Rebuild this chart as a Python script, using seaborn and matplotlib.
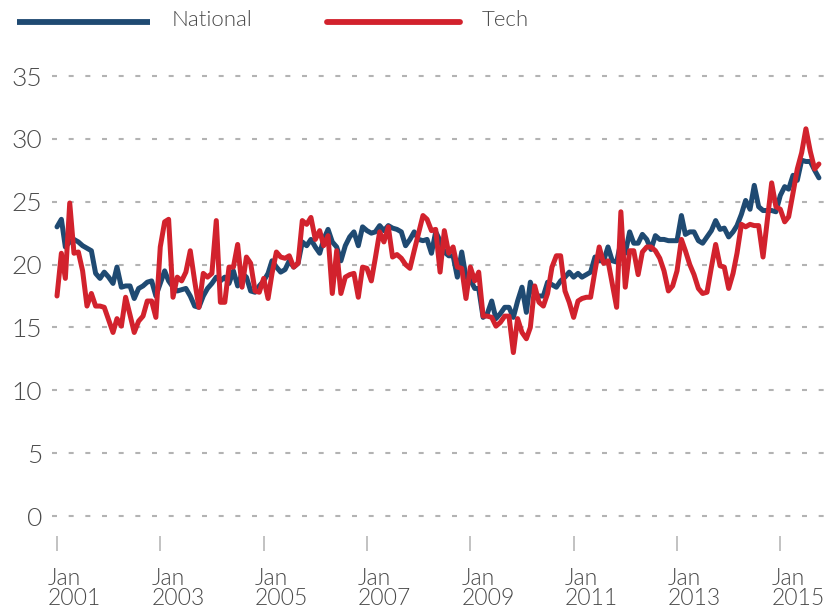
import matplotlib
matplotlib.use("Agg")
import matplotlib.pyplot as plt
import matplotlib.dates as mdates
from matplotlib.lines import Line2D
from matplotlib.transforms import ScaledTranslation
import pandas as pd
import seaborn as sns

# monthly values, Jan 2001 .. Oct 2015
national = [
    23.0, 23.6, 21.4, 21.8, 22.0, 21.8, 21.5, 21.3, 21.1, 19.3, 18.9, 19.4,  # 2001
    19.0, 18.5, 19.8, 18.2, 18.3, 18.3, 17.3, 18.1, 18.3, 18.6, 18.7, 17.5,  # 2002
    18.5, 19.5, 18.7, 18.2, 17.9, 18.0, 18.1, 17.5, 16.7, 16.6, 17.5, 18.1,  # 2003
    18.5, 19.0, 18.7, 19.0, 18.5, 19.5, 18.3, 19.3, 19.0, 17.9, 17.8, 18.3,  # 2004
    18.7, 19.3, 20.3, 19.8, 19.4, 19.6, 20.3, 19.8, 20.1, 21.8, 21.5, 22.0,  # 2005
    21.4, 20.9, 22.0, 22.8, 21.8, 21.4, 20.3, 21.5, 22.2, 22.6, 21.5, 23.0,  # 2006
    22.7, 22.5, 22.6, 23.1, 22.7, 23.1, 22.9, 22.8, 22.6, 21.5, 22.0, 22.6,  # 2007
    22.0, 21.9, 22.0, 20.9, 22.6, 21.9, 21.0, 20.7, 20.7, 19.0, 21.0, 19.0,  # 2008
    18.8, 18.1, 18.1, 15.8, 16.1, 17.1, 15.7, 16.1, 16.6, 16.6, 15.8, 17.1,  # 2009
    18.2, 16.2, 18.6, 17.5, 17.5, 17.5, 18.6, 18.4, 18.2, 18.7, 19.0, 19.4,  # 2010
    19.0, 19.3, 19.0, 19.2, 19.4, 20.6, 20.3, 20.3, 21.4, 20.3, 20.2, 21.8,  # 2011
    20.9, 22.6, 21.7, 21.7, 22.4, 22.0, 21.2, 22.3, 22.0, 22.0, 21.9, 21.9,  # 2012
    21.9, 23.9, 22.4, 22.6, 22.6, 21.9, 21.7, 22.2, 22.7, 23.5, 22.8, 22.9,  # 2013
    22.2, 22.6, 23.1, 24.0, 25.1, 24.4, 26.3, 24.6, 24.3, 24.3, 24.3, 24.2,  # 2014
    25.5, 26.2, 26.0, 27.1, 26.7, 28.3, 28.2, 28.2, 27.5, 26.9,              # 2015
]
tech = [
    17.5, 20.9, 18.9, 24.9, 20.9, 21.0, 19.5, 16.7, 17.7, 16.7, 16.7, 16.6,  # 2001
    15.6, 14.6, 15.7, 15.1, 17.4, 16.0, 14.6, 15.5, 15.9, 17.1, 17.1, 15.8,  # 2002
    21.4, 23.4, 23.6, 17.4, 19.0, 18.7, 19.4, 21.1, 18.7, 16.6, 19.3, 19.0,  # 2003
    19.3, 23.5, 17.0, 17.0, 19.8, 19.8, 21.6, 18.2, 20.6, 20.1, 17.9, 17.8,  # 2004
    18.9, 17.3, 19.3, 21.0, 20.6, 20.5, 20.7, 19.8, 20.1, 23.5, 23.2, 23.75, # 2005
    22.0, 22.7, 21.5, 22.3, 17.7, 21.1, 17.7, 19.0, 19.2, 19.3, 17.4, 19.8,  # 2006
    19.7, 18.7, 20.5, 22.6, 21.8, 23.0, 20.6, 20.8, 20.5, 20.0, 19.7, 21.1,  # 2007
    22.5, 23.9, 23.6, 22.7, 22.8, 19.4, 22.7, 20.9, 21.4, 19.8, 19.7, 17.3,  # 2008
    19.8, 18.7, 19.4, 15.9, 15.9, 15.8, 15.1, 15.4, 15.9, 15.9, 13.0, 15.7,  # 2009
    14.6, 14.1, 15.0, 18.3, 17.0, 16.7, 17.7, 19.8, 20.7, 20.7, 17.9, 17.0,  # 2010
    15.8, 17.1, 17.3, 17.4, 17.4, 19.5, 21.4, 20.1, 20.3, 18.5, 16.6, 24.2,  # 2011
    18.2, 21.1, 21.1, 19.2, 21.0, 21.4, 21.4, 21.1, 20.5, 19.5, 17.9, 18.3,  # 2012
    19.5, 22.0, 21.1, 20.0, 19.2, 18.1, 17.7, 17.8, 19.8, 21.6, 19.9, 19.8,  # 2013
    18.1, 19.3, 20.9, 23.2, 23.0, 23.2, 23.1, 23.1, 20.6, 23.5, 26.5, 24.6,  # 2014
    24.4, 23.4, 23.8, 25.7, 27.6, 28.9, 30.8, 29.0, 27.6, 28.0,              # 2015
]
tick_years = [2001, 2003, 2005, 2007, 2009, 2011, 2013, 2015]
y_ticks = [0, 5, 10, 15, 20, 25, 30, 35]

BLUE = "#1f4a72"
RED = "#d2222d"
TXT = "#4a4a4a"

dates = pd.date_range("2001-01-01", periods=len(national), freq="MS")
df = pd.DataFrame({"date": dates, "National": national, "Tech": tech})

sns.set_theme(style="white")
plt.rcParams["font.family"] = ["Lato", "DejaVu Sans"]
plt.rcParams["font.weight"] = 300

W, H = 835, 616
fig = plt.figure(figsize=(W / 100, H / 100), dpi=100)

# axes placed in pixel terms: y=0 at 516px, y=35 at 76px
ylo, yhi = -1.6, 36.0
ppu = (516 - 76) / 35
bot_px = 516 + (0 - ylo) * ppu
top_px = 516 - yhi * ppu
left_px, right_px = 52, 832
ax = fig.add_axes([left_px / W, 1 - bot_px / H, (right_px - left_px) / W, (bot_px - top_px) / H])

sns.lineplot(data=df, x="date", y="National", ax=ax, color=BLUE, lw=3.6, zorder=3)
sns.lineplot(data=df, x="date", y="Tech", ax=ax, color=RED, lw=3.6, zorder=4)

d0 = mdates.date2num(pd.Timestamp("2001-01-01"))
d1 = mdates.date2num(pd.Timestamp("2015-01-01"))
scale = (780.3 - 57) / (d1 - d0)
ax.set_xlim(d0 - (57 - left_px) / scale, d1 + (right_px - 780.3) / scale)
ax.set_ylim(ylo, yhi)

for v in y_ticks:
    ax.axhline(v, color="#b3b3b3", lw=1.5, ls=(0, (2.4, 5.6)), zorder=1)

ax.set_yticks(y_ticks)
ax.set_yticklabels([str(v) for v in y_ticks], fontsize=19, color=TXT, fontweight=300)
ax.tick_params(axis="y", left=False, length=0, pad=7)

xt = [pd.Timestamp(f"{y}-01-01") for y in tick_years]
ax.set_xticks(xt)
ax.set_xticklabels([f"Jan\n{y}" for y in tick_years], fontsize=16.5, color=TXT,
                   linespacing=0.95, fontweight=300)
ax.tick_params(axis="x", bottom=True, direction="out", length=11, width=1.3,
               color="#bdbdbd", pad=12)
off = ScaledTranslation(-9 / 100, 0, fig.dpi_scale_trans)
for lab in ax.get_xticklabels():
    lab.set_ha("left")
    lab.set_transform(lab.get_transform() + off)

ax.set_xlabel("")
ax.set_ylabel("")
for s in ax.spines.values():
    s.set_visible(False)

# legend across the top
fig.add_artist(Line2D([17 / W, 150 / W], [1 - 22 / H] * 2, transform=fig.transFigure,
                      color=BLUE, lw=4.2, solid_capstyle="butt"))
fig.text(172 / W, 1 - 20 / H, "National", fontsize=16, color=TXT, va="center", ha="left",
         fontweight=300)
fig.add_artist(Line2D([327 / W, 460 / W], [1 - 22 / H] * 2, transform=fig.transFigure,
                      color=RED, lw=4.2, solid_capstyle="round"))
fig.text(482 / W, 1 - 20 / H, "Tech", fontsize=16, color=TXT, va="center", ha="left",
         fontweight=300)

fig.savefig("out.png", dpi=100)
